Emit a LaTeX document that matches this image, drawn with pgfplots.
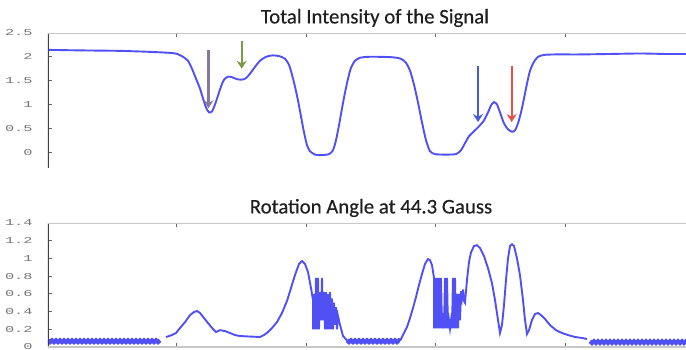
\documentclass[border=0pt]{standalone}
\usepackage{pgfplots}
\pgfplotsset{compat=1.18}
\usepackage{fontspec}
\setmainfont{Carlito}
\setmonofont{Liberation Mono}
\newfontfamily\titlefont[FakeBold=0.35]{Carlito}
\usetikzlibrary{arrows.meta}
\definecolor{curve}{RGB}{80,80,245}
\definecolor{arrpurple}{RGB}{135,120,160}
\definecolor{arrgreen}{RGB}{120,155,70}
\definecolor{arrblue}{RGB}{70,90,220}
\definecolor{arrred}{RGB}{230,80,70}
\pgfplotsset{
  mystyle/.style={
    scale only axis, width=320pt, anchor=south west,
    xmin=48, xmax=688,
    axis line style={draw=none},
    xtick={176,306,435,565}, xticklabels={},
    major tick length=2pt,
    tick style={black!60, line width=0.5pt},
    ytick pos=left,
    tick align=inside,
    yticklabel style={font=\fontsize{4.5}{5}\selectfont\ttfamily, xscale=1.7, text=black!55, anchor=east, xshift=-1pt},
    /pgf/number format/assume math mode=true,
  },
  band/.style={curve, line width=2.1pt},
  main/.style={curve, line width=0.95pt},
}
\begin{document}
\begin{tikzpicture}
\useasboundingbox (0,0) rectangle (343pt,174.5pt);
% ---------- top axis ----------
\begin{axis}[mystyle, at={(24pt,90.5pt)}, height=67.5pt,
  ymin=-0.3333, ymax=2.5, ytick={0,0.5,1,1.5,2,2.5},
  yticklabels={0,0.5,1,1.5,2,2.5},
  xtick pos=right]
\addplot[main, smooth, tension=0.4] coordinates {
(48,2.146)(80,2.135)(120,2.125)(150,2.104)(170,2.083)(177,2.063)(183,2.0)(188,1.917)
(192,1.75)(196,1.542)(200,1.333)(203,1.125)(206,0.9375)(209,0.833)(212,0.854)(215,1.0)
(218,1.1875)(221,1.375)(224,1.52)(228,1.583)(232,1.573)(237,1.53)(242,1.521)(246,1.552)
(250,1.646)(255,1.79)(260,1.917)(266,2.0)(273,2.03)(280,2.01)(285,1.958)(289,1.833)
(292,1.625)(295,1.375)(298,1.083)(301,0.75)(304,0.417)(307,0.146)(310,0.02)(315,-0.052)
(322,-0.0625)(329,-0.042)(333,0.04)(336,0.25)(339,0.5625)(342,0.917)(345,1.25)(348,1.54)
(351,1.77)(355,1.917)(360,1.98)(368,2.0)(380,2.0)(393,1.99)(401,1.958)(406,1.875)
(410,1.71)(414,1.417)(418,1.04)(422,0.625)(426,0.25)(430,0.02)(435,-0.042)(445,-0.052)
(456,-0.042)(461,0.04)(465,0.1875)(469,0.333)(474,0.4375)(479,0.54)(484,0.667)(488,0.833)
(491,0.98)(494,1.05)(497,1.0)(500,0.833)(504,0.604)(508,0.479)(512,0.427)(515,0.458)
(518,0.604)(521,0.833)(524,1.125)(527,1.4375)(530,1.708)(534,1.896)(538,2.0)(544,2.04)
(555,2.05)(580,2.05)(610,2.06)(640,2.07)(665,2.06)(686,2.06)
};
\draw[arrpurple, line width=1.4pt, -{Stealth[length=4pt,width=5pt]}] (axis cs:208.5,2.146) -- (axis cs:208.5,0.92);
\draw[arrgreen, line width=1.1pt, -{Stealth[length=4pt,width=5pt]}] (axis cs:241.7,2.33) -- (axis cs:241.7,1.75);
\draw[arrblue, line width=1.1pt, -{Stealth[length=4pt,width=5pt]}] (axis cs:478,1.81) -- (axis cs:478,0.63);
\draw[arrred, line width=1.1pt, -{Stealth[length=4pt,width=5pt]}] (axis cs:511.7,1.81) -- (axis cs:511.7,0.63);
\draw[black!75, line width=1pt] (rel axis cs:0,0) -- (rel axis cs:0,1);
\draw[black!22, line width=0.8pt] (rel axis cs:0,1) -- (rel axis cs:1,1);
\end{axis}
% ---------- bottom axis ----------
\begin{axis}[mystyle, at={(24pt,1pt)}, height=62pt,
  ymin=0, ymax=1.4, ytick={0,0.2,0.4,0.6,0.8,1,1.2,1.4},
  yticklabels={0,0.2,0.4,0.6,0.8,1,1.2,1.4},
  xtick pos=both]
\addplot[band] coordinates {
(48,0.075)(50,0.055)(52,0.075)(54,0.055)(56,0.075)(58,0.055)(60,0.075)(62,0.055)(64,0.075)(66,0.055)
(68,0.075)(70,0.055)(72,0.075)(74,0.055)(76,0.075)(78,0.055)(80,0.075)(82,0.055)(84,0.075)(86,0.055)
(88,0.075)(90,0.055)(92,0.075)(94,0.055)(96,0.075)(98,0.055)(100,0.075)(102,0.055)(104,0.075)(106,0.055)
(108,0.075)(110,0.055)(112,0.075)(114,0.055)(116,0.075)(118,0.055)(120,0.075)(122,0.055)(124,0.075)(126,0.055)
(128,0.075)(130,0.055)(132,0.075)(134,0.055)(136,0.075)(138,0.055)(140,0.075)(142,0.055)(144,0.075)(146,0.055)
(148,0.075)(150,0.055)(152,0.075)(154,0.055)(156,0.075)(158,0.055)(160,0.075)
};
\addplot[main] coordinates {
(166,0.113)(172,0.135)(176,0.158)(180,0.214)(185,0.28)(190,0.36)(194,0.395)(197,0.406)
(200,0.384)(204,0.327)(208,0.27)(213,0.203)(216,0.169)(220,0.19)(225,0.18)(230,0.158)
(235,0.135)(240,0.124)(250,0.118)(260,0.113)(264,0.135)(268,0.169)(272,0.214)(277,0.282)
(282,0.384)(287,0.52)(291,0.666)(295,0.813)(299,0.937)(302,0.97)(305,0.937)(308,0.846)
(311,0.666)(313,0.53)
(313,0.2)(314,0.6)(315,0.2)(316,0.78)(317,0.2)(318,0.78)(319,0.2)(320,0.62)(321,0.3)(322,0.78)
(323,0.3)(324,0.62)(325,0.2)(326,0.62)(327,0.2)(328,0.6)(329,0.2)(330,0.62)(331,0.2)(332,0.55)
(333,0.2)(334,0.5)(335,0.25)(336,0.45)(337,0.2)(338,0.35)
(340,0.25)(343,0.124)(347,0.075)
};
\addplot[band] coordinates {
(347,0.075)(349,0.055)(351,0.075)(353,0.055)(355,0.075)(357,0.055)(359,0.075)(361,0.055)(363,0.075)(365,0.055)
(367,0.075)(369,0.055)(371,0.075)(373,0.055)(375,0.075)(377,0.055)(379,0.075)(381,0.055)(383,0.075)
(385,0.055)(387,0.075)(389,0.055)(391,0.075)(393,0.055)(395,0.075)(397,0.055)(399,0.075)(400,0.07)
};
\addplot[main] coordinates {
(400,0.07)(403,0.135)(407,0.226)(410,0.327)(413,0.44)(416,0.564)(419,0.70)(422,0.824)(425,0.937)
(428,0.993)(430,0.98)(432,0.925)(434,0.78)
(434,0.21)(435,0.78)(436,0.21)(437,0.78)(438,0.21)(439,0.78)(440,0.21)(441,0.78)(442,0.21)
(443,0.3)(444,0.21)(445,0.78)(446,0.21)(447,0.78)(448,0.21)(449,0.3)(450,0.21)(451,0.3)
(452,0.21)(453,0.78)(454,0.21)(455,0.78)(456,0.21)(457,0.6)(458,0.21)(459,0.6)(460,0.3)
(461,0.63)(462,0.55)(463,0.65)(464,0.52)(465,0.5)
(467,0.756)(469,0.96)(471,1.07)(474,1.14)(477,1.15)(480,1.117)(484,1.027)(488,0.89)
(492,0.72)(495,0.53)(498,0.305)(500,0.158)(502,0.248)(504,0.474)(506,0.756)(508,1.0)
(510,1.14)(512,1.16)(514,1.14)(517,1.0)(520,0.81)(523,0.53)(525,0.305)(527,0.147)
(529,0.19)(532,0.305)(535,0.372)(538,0.384)(541,0.36)(545,0.316)(550,0.248)(556,0.19)
(562,0.158)(568,0.135)(575,0.113)(583,0.1)(587,0.09)
};
\addplot[band] coordinates {
(590,0.065)(592,0.045)(594,0.065)(596,0.045)(598,0.065)(600,0.045)(602,0.065)(604,0.045)(606,0.065)
(608,0.045)(610,0.065)(612,0.045)(614,0.065)(616,0.045)(618,0.065)(620,0.045)(622,0.065)(624,0.045)
(626,0.065)(628,0.045)(630,0.065)(632,0.045)(634,0.065)(636,0.045)(638,0.065)(640,0.045)(642,0.065)
(644,0.045)(646,0.065)(648,0.045)(650,0.065)(652,0.045)(654,0.065)(656,0.045)(658,0.065)(660,0.045)
(662,0.065)(664,0.045)(666,0.065)(668,0.045)(670,0.065)(672,0.045)(674,0.065)(676,0.045)(678,0.065)
(680,0.045)(682,0.065)(684,0.045)(686,0.065)(688,0.045)
};
\draw[black!75, line width=1pt] (rel axis cs:0,0) -- (rel axis cs:0,1);
\draw[black!22, line width=0.8pt] (rel axis cs:0,1) -- (rel axis cs:1,1);
\draw[black!22, line width=0.8pt] (rel axis cs:0,0) -- (rel axis cs:1,0);
\end{axis}
% ---------- titles ----------
\node[font=\titlefont\fontsize{10.4}{12}\selectfont, text=black!88] at (187.5pt,165.5pt) {Total Intensity of the Signal};
\node[font=\titlefont\fontsize{10.4}{12}\selectfont, text=black!88] at (185.5pt,70.5pt) {Rotation Angle at 44.3 Gauss};
\end{tikzpicture}
\end{document}
